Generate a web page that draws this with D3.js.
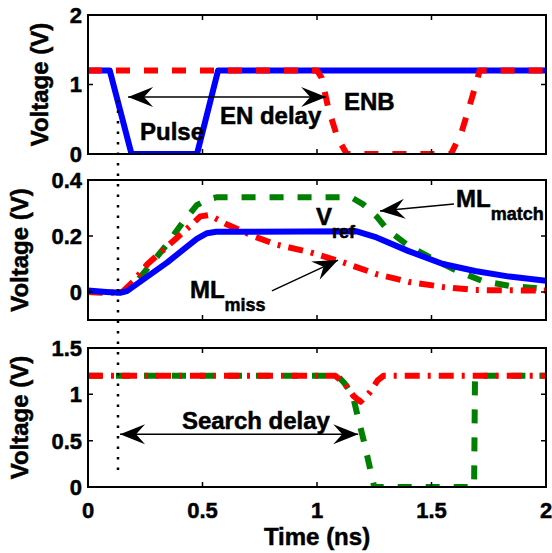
<!DOCTYPE html>
<html>
<head>
<meta charset="utf-8">
<script src="https://cdn.jsdelivr.net/npm/d3@7"></script>
<style>
body { margin: 0; background: #fff; }
svg text { font-family: "Liberation Sans", Arial, sans-serif; font-weight: bold; fill: #000; stroke: #000; stroke-width: 0.5px; }
</style>
</head>
<body>
<div class="chart"></div>
<script>
// time axis shared by the three panels
var timeTicks = [0, 0.5, 1, 1.5, 2];
var timeTickLabels = ["0", "0.5", "1", "1.5", "2"];

// top panel: Pulse (blue) and ENB (red dashed)
var pulseT = [0, 0.095, 0.19, 0.476, 0.568, 2];
var pulseV = [1.2, 1.2, 0, 0, 1.2, 1.2];
var enbT = [0, 1.0, 1.02, 1.05, 1.09, 1.13, 1.585, 1.63, 1.665, 1.70, 1.71, 2];
var enbV = [1.2, 1.2, 1.1, 0.65, 0.23, 0, 0, 0.3, 0.68, 1.07, 1.2, 1.2];
var topTicks = [0, 1, 2];
var topTickLabels = ["0", "1", "2"];

// middle panel: Vref (blue), ML match (green dashed), ML miss (red dash-dot)
var vrefT = [0, 0.08, 0.14, 0.17, 0.345, 0.475, 0.52, 0.56, 1.17, 1.26, 1.40, 1.55, 1.69, 1.84, 2];
var vrefV = [0.005, 0, -0.003, 0.003, 0.105, 0.19, 0.21, 0.215, 0.217, 0.195, 0.146, 0.1, 0.075, 0.055, 0.04];
var matchT = [0, 0.1, 0.15, 0.2, 0.24, 0.345, 0.415, 0.475, 0.52, 0.56, 1.15, 1.2, 1.26, 1.31, 1.4, 1.49, 1.61, 1.72, 1.84, 2];
var matchV = [0, -0.003, 0, 0.025, 0.065, 0.17, 0.25, 0.31, 0.33, 0.338, 0.338, 0.314, 0.27, 0.22, 0.165, 0.125, 0.076, 0.04, 0.022, 0.01];
var missT = [0, 0.1, 0.15, 0.2, 0.26, 0.39, 0.445, 0.49, 0.53, 0.61, 0.72, 0.82, 0.965, 1.11, 1.26, 1.4, 1.55, 1.69, 2];
var missV = [0, -0.003, 0, 0.04, 0.1, 0.195, 0.235, 0.27, 0.275, 0.24, 0.2, 0.17, 0.143, 0.107, 0.064, 0.036, 0.018, 0.007, 0.005];
var midTicks = [0, 0.2, 0.4];
var midTickLabels = ["0", "0.2", "0.4"];

// bottom panel: search lines
var searchGreenT = [0, 1.09, 1.12, 1.156, 1.18, 1.205, 1.228, 1.25, 1.686, 1.69, 2];
var searchGreenV = [1.2, 1.2, 1.12, 0.99, 0.74, 0.49, 0.24, 0, 0, 1.2, 1.2];
var searchRedT = [0, 1.08, 1.12, 1.16, 1.19, 1.23, 1.265, 1.29, 2];
var searchRedV = [1.2, 1.2, 1.12, 0.98, 0.92, 1.02, 1.15, 1.2, 1.2];
var botTicks = [0, 0.5, 1, 1.5];
var botTickLabels = ["0", "0.5", "1", "1.5"];

var markerT = 0.131;  // dotted reference time

var svg = d3.select(".chart").append("svg").attr("width", 552).attr("height", 553);

var defs = svg.append("defs");
defs.append("marker")
    .attr("id", "head")
    .attr("viewBox", "-26 -11 27 22")
    .attr("refX", 0).attr("refY", 0)
    .attr("markerWidth", 27).attr("markerHeight", 22)
    .attr("markerUnits", "userSpaceOnUse")
    .attr("orient", "auto-start-reverse")
  .append("path")
    .attr("d", "M0,0 L-25,-10 L-16,0 L-25,10 Z")
    .attr("fill", "#000");

var x = d3.scaleLinear().domain([0, 2]).range([88, 546]);

// labelX: baseline of the rotated y label (sits left of the widest tick label)
var panels = [
  {id: "top", y0: 15, y1: 154, domain: [0, 2], ticks: topTicks, labels: topTickLabels, labelX: 48},
  {id: "mid", y0: 180, y1: 320, domain: [-0.1, 0.4], ticks: midTicks, labels: midTickLabels, labelX: 28},
  {id: "bot", y0: 348, y1: 487, domain: [0, 1.5], ticks: botTicks, labels: botTickLabels, labelX: 28}
];

panels.forEach(function(p) {
  p.y = d3.scaleLinear().domain(p.domain).range([p.y1, p.y0]);
  defs.append("clipPath").attr("id", "clip-" + p.id)
    .append("rect").attr("x", x(0)).attr("y", p.y0).attr("width", x(2) - x(0)).attr("height", p.y1 - p.y0);
  p.g = svg.append("g");
  p.plot = p.g.append("g").attr("clip-path", "url(#clip-" + p.id + ")");
});

function drawLine(p, ts, vs, color, dash) {
  var pts = ts.map(function(t, i) { return [t, vs[i]]; });
  var line = d3.line()
      .x(function(d) { return x(d[0]); })
      .y(function(d) { return p.y(d[1]); });
  p.plot.append("path")
      .datum(pts)
      .attr("d", line)
      .attr("fill", "none")
      .attr("stroke", color)
      .attr("stroke-width", 6)
      .attr("stroke-linejoin", "round")
      .attr("stroke-dasharray", dash || null);
}

var pTop = panels[0], pMid = panels[1], pBot = panels[2];

drawLine(pTop, pulseT, pulseV, "#0000ff");
drawLine(pTop, enbT, enbV, "#ff0000", "14,14");

drawLine(pMid, matchT, matchV, "#008000", "14,14");
drawLine(pMid, missT, missV, "#ff0000", "15,8,3,8");
drawLine(pMid, vrefT, vrefV, "#0000ff");

drawLine(pBot, searchGreenT, searchGreenV, "#008000", "14,14");
drawLine(pBot, searchRedT, searchRedV, "#ff0000", "15,8,3,8");

// axes: box with inward ticks on every side
panels.forEach(function(p, i) {
  var g = p.g;
  g.append("rect")
      .attr("x", x(0)).attr("y", p.y0)
      .attr("width", x(2) - x(0)).attr("height", p.y1 - p.y0)
      .attr("fill", "none").attr("stroke", "#000").attr("stroke-width", 2);

  g.selectAll(".ytick").data(p.ticks).enter().append("path")
      .attr("d", function(d) {
        var yy = p.y(d);
        return "M" + x(0) + "," + yy + "h5M" + x(2) + "," + yy + "h-5";
      })
      .attr("stroke", "#000").attr("stroke-width", 1.5);

  g.selectAll(".xtick").data(timeTicks).enter().append("path")
      .attr("d", function(d) {
        var xx = x(d);
        return "M" + xx + "," + p.y1 + "v-5M" + xx + "," + p.y0 + "v5";
      })
      .attr("stroke", "#000").attr("stroke-width", 1.5);

  g.selectAll(".ylab").data(p.ticks).enter().append("text")
      .attr("x", x(0) - 6)
      .attr("y", function(d) { return p.y(d); })
      .attr("dy", "0.36em")
      .attr("text-anchor", "end")
      .style("font-size", "22px")
      .text(function(d, j) { return p.labels[j]; });

  g.append("text")
      .attr("transform", "translate(" + p.labelX + "," + ((p.y0 + p.y1) / 2) + ") rotate(-90)")
      .attr("text-anchor", "middle")
      .style("font-size", "24px")
      .text("Voltage (V)");
});

svg.selectAll(".xlab").data(timeTicks).enter().append("text")
    .attr("x", function(d) { return x(d); })
    .attr("y", 518)
    .attr("text-anchor", "middle")
    .style("font-size", "22px")
    .text(function(d, j) { return timeTickLabels[j]; });

svg.append("text")
    .attr("x", (x(0) + x(2)) / 2)
    .attr("y", 545)
    .attr("text-anchor", "middle")
    .style("font-size", "24px")
    .text("Time (ns)");

// dotted reference line across the panels
svg.append("line")
    .attr("x1", x(markerT)).attr("x2", x(markerT))
    .attr("y1", 100).attr("y2", 470)
    .attr("stroke", "#000").attr("stroke-width", 2.5)
    .attr("stroke-dasharray", "2.5,8");

// annotations
function arrow(p, t1, v1, t2, v2, both) {
  svg.append("line")
      .attr("x1", x(t1)).attr("y1", p.y(v1))
      .attr("x2", x(t2)).attr("y2", p.y(v2))
      .attr("stroke", "#000").attr("stroke-width", 1.5)
      .attr("marker-end", "url(#head)")
      .attr("marker-start", both ? "url(#head)" : null);
}

function label(p, t, v, main, sub) {
  var txt = svg.append("text").attr("x", x(t)).attr("y", p.y(v)).style("font-size", "24px");
  txt.append("tspan").text(main);
  if (sub) txt.append("tspan").attr("dy", 13).style("font-size", "18px").text(sub);
}

arrow(pTop, 0.175, 0.82, 1.04, 0.82, true);
label(pTop, 0.227, 0.2, "Pulse");
label(pTop, 0.576, 0.43, "EN delay");
label(pTop, 1.118, 0.63, "ENB");

arrow(pMid, 1.598, 0.314, 1.275, 0.289);
arrow(pMid, 0.803, 0.004, 1.092, 0.114);
label(pMid, 0.996, 0.239, "V", "ref");
label(pMid, 1.607, 0.304, "ML", "match");
label(pMid, 0.445, -0.021, "ML", "miss");

arrow(pBot, 0.14, 0.57, 1.18, 0.57, true);
label(pBot, 0.41, 0.626, "Search delay");
</script>
</body>
</html>
